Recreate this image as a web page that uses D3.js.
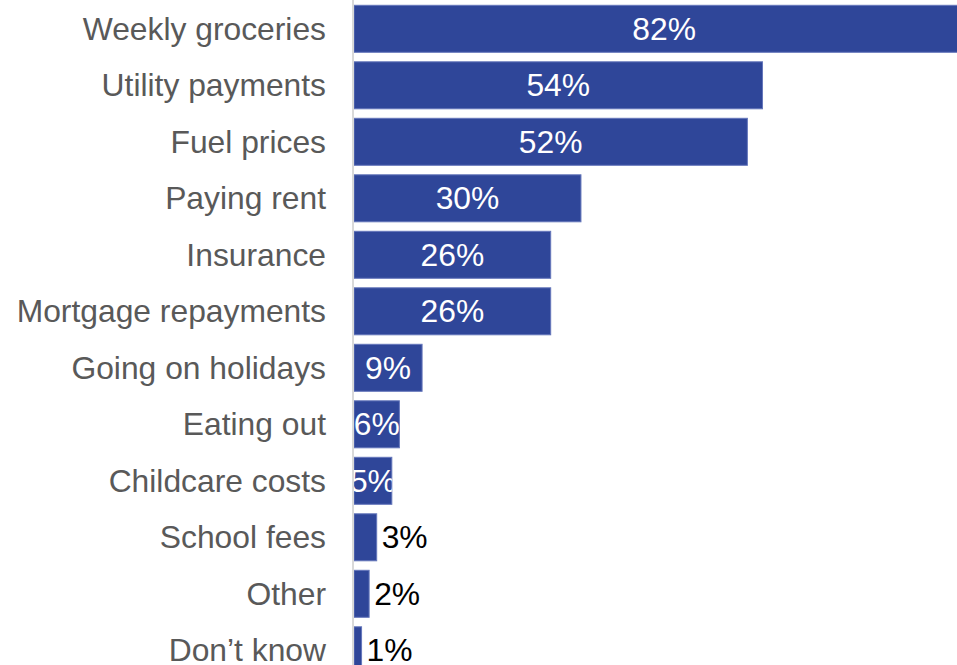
<!DOCTYPE html>
<html>
<head>
<meta charset="utf-8">
<script src="https://cdn.jsdelivr.net/npm/d3@7"></script>
<style>
  html, body { margin: 0; padding: 0; background: #fff; overflow: hidden; }
  svg { display: block; }
  text { font-family: "Liberation Sans", Arial, sans-serif; }
</style>
</head>
<body>
<svg id="chart" width="957" height="665"></svg>
<script>
// Share of respondents citing each cost
const categories = [
  "Weekly groceries", "Utility payments", "Fuel prices", "Paying rent",
  "Insurance", "Mortgage repayments", "Going on holidays", "Eating out",
  "Childcare costs", "School fees", "Other", "Don\u2019t know"
];
const values = [82, 54, 52, 30, 26, 26, 9, 6, 5, 3, 2, 1];

const W = 957, H = 665;
const axisX = 353;
const fontSize = 31.8;
const barFill = "#2f4699";
const barEdge = "#6577bb";

const svg = d3.select("#chart");

const x = d3.scaleLinear().domain([0, 1]).range([axisX + 1, axisX + 1 + 756.5]);
const y = d3.scaleBand()
  .domain(categories)
  .range([0.55, 678.55])
  .paddingInner(0.168)
  .paddingOuter(0.084);

const data = categories.map((c, i) => ({ cat: c, v: values[i], i }));

// clip paths so inside labels stay within their bars
const defs = svg.append("defs");
data.forEach(d => {
  defs.append("clipPath").attr("id", "clip" + d.i)
    .append("rect")
    .attr("x", x(0))
    .attr("y", y(d.cat))
    .attr("width", x(d.v / 100) - x(0))
    .attr("height", y.bandwidth());
});

// bars
svg.append("g").selectAll("rect")
  .data(data)
  .join("rect")
  .attr("x", x(0))
  .attr("y", d => y(d.cat))
  .attr("width", d => x(d.v / 100) - x(0))
  .attr("height", y.bandwidth())
  .attr("fill", barFill)
  .attr("stroke", barEdge)
  .attr("stroke-width", 1);

// vertical baseline
svg.append("line")
  .attr("x1", axisX).attr("x2", axisX)
  .attr("y1", 0).attr("y2", H)
  .attr("stroke", "#d9d9d9")
  .attr("stroke-width", 2);

// category labels (left axis)
const yAxis = d3.axisLeft(y).tickSize(0).tickPadding(0);
const ga = svg.append("g")
  .attr("transform", `translate(${axisX - 27},0)`)
  .call(yAxis);
ga.select(".domain").remove();
ga.selectAll("text")
  .attr("fill", "#595959")
  .style("font-size", fontSize + "px")
  .style("font-family", "'Liberation Sans', Arial, sans-serif")
  .attr("dy", "0.34em");

// value labels
const insideMin = 4;
const lbl = svg.append("g");
data.forEach(d => {
  const cy = y(d.cat) + y.bandwidth() / 2;
  const t = d.v + "%";
  if (d.v > insideMin) {
    lbl.append("text")
      .attr("clip-path", `url(#clip${d.i})`)
      .attr("x", (x(0) + x(d.v / 100)) / 2)
      .attr("y", cy)
      .attr("dy", "0.34em")
      .attr("text-anchor", "middle")
      .attr("fill", "#ffffff")
      .style("font-size", fontSize + "px")
      .text(t);
  } else {
    lbl.append("text")
      .attr("x", x(d.v / 100) + 5)
      .attr("y", cy)
      .attr("dy", "0.34em")
      .attr("text-anchor", "start")
      .attr("fill", "#000000")
      .style("font-size", fontSize + "px")
      .text(t);
  }
});
</script>
</body>
</html>
